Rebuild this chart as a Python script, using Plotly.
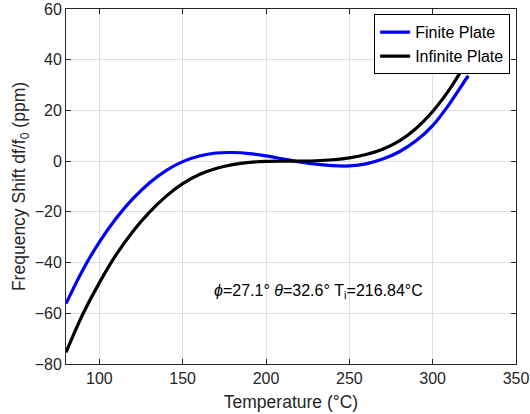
import plotly.graph_objects as go

# Data
temp_finite = [80, 90, 100, 110, 120, 130, 140, 150, 160, 170, 180, 190, 200, 210,
               220, 230, 240, 250, 260, 270, 280, 290, 300, 310, 320, 321.4]
shift_finite = [-56.2, -43.0, -31.9, -22.6, -14.9, -8.6, -3.7, -0.2, 2.0, 3.2, 3.4, 3.0, 2.1, 0.9,
                -0.3, -1.2, -1.8, -1.9, -1.1, 0.8, 3.7, 8.0, 14.0, 22.5, 32.4, 33.7]

temp_infinite = [80, 90, 100, 110, 120, 130, 140, 150, 160, 170, 180, 190, 200, 210, 220,
                 230, 240, 250, 260, 270, 280, 290, 300, 310, 320, 321.4]
shift_infinite = [-75.4, -60.5, -48.0, -37.0, -27.8, -20.2, -13.9, -8.9, -5.3, -2.9, -1.4, -0.5, -0.1, 0.0, 0.02,
                  0.15, 0.55, 1.3, 2.6, 4.7, 8.0, 12.9, 19.6, 28.2, 38.8, 40.4]

x_ticks = [100, 150, 200, 250, 300, 350]
y_ticks = [-80, -60, -40, -20, 0, 20, 40, 60]

FONT = "Liberation Sans, Arial, sans-serif"
AX = "#262626"

fig = go.Figure()
fig.add_trace(go.Scatter(x=temp_finite, y=shift_finite, mode="lines", name="Finite Plate",
                         line=dict(color="#0000ff", width=3.2, shape="spline", smoothing=1.0)))
fig.add_trace(go.Scatter(x=temp_infinite, y=shift_infinite, mode="lines", name="Infinite Plate",
                         line=dict(color="#000000", width=3.2, shape="spline", smoothing=1.0)))

fig.add_annotation(x=231.5, y=-51.5, xref="x", yref="y", showarrow=False,
                   text="<i>ϕ</i>=27.1° <i>θ</i>=32.6° T<sub>i</sub>=216.84°C",
                   font=dict(family=FONT, size=16, color="#000000"))

fig.update_layout(
    width=530, height=414,
    margin=dict(l=66, r=14, t=9, b=50),
    paper_bgcolor="white", plot_bgcolor="white",
    font=dict(family=FONT, size=16, color=AX),
    showlegend=True,
    legend=dict(x=0.987, y=0.985, xanchor="right", yanchor="top",
                bgcolor="white", bordercolor="#000000", borderwidth=1,
                font=dict(family=FONT, size=16, color="#000000"),
                tracegroupgap=0, itemwidth=30),
)
fig.update_xaxes(range=[80, 350], tickvals=x_ticks, ticks="inside", ticklen=5, tickcolor=AX,
                 showline=True, linecolor=AX, linewidth=1, mirror="ticks", automargin=False,
                 showgrid=True, gridcolor="#dfdfdf", gridwidth=1, zeroline=False,
                 title=dict(text="Temperature (°C)", standoff=9, font=dict(size=17.5, color=AX)),
                 tickfont=dict(size=16, color=AX))
fig.update_yaxes(range=[-80, 60], tickvals=y_ticks, ticks="inside", ticklen=5, tickcolor=AX,
                 showline=True, linecolor=AX, linewidth=1, mirror="ticks", automargin=False,
                 showgrid=True, gridcolor="#dfdfdf", gridwidth=1, zeroline=False,
                 title=dict(text="Frequency Shift df/f<sub>0</sub> (ppm)", standoff=4, font=dict(size=17.5, color=AX)),
                 tickfont=dict(size=16, color=AX))

# remove the browser's default 8px body margin so the figure fills the 530x414 window exactly
fig.write_html("out.html", config={"displayModeBar": False},
               post_script="document.body.style.margin='0';")
